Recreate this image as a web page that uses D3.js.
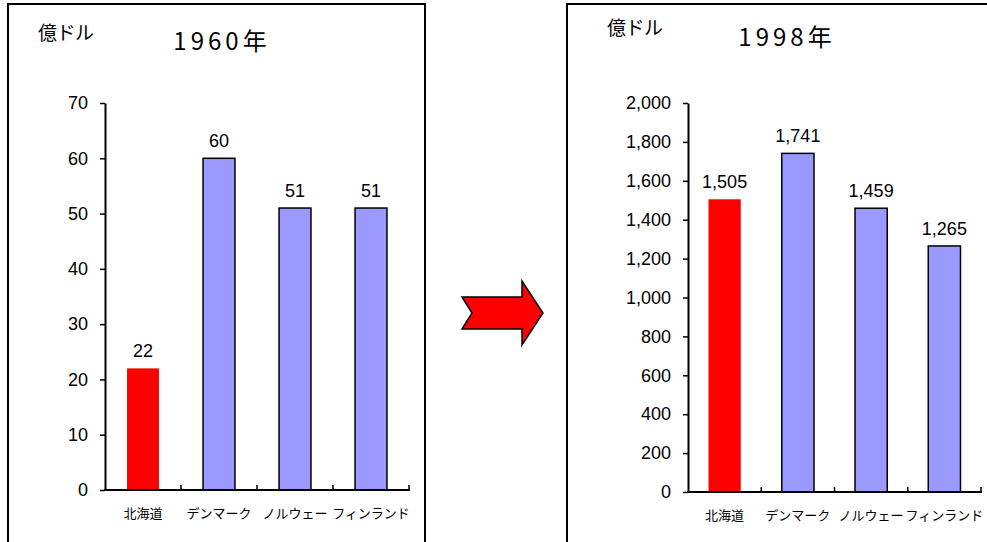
<!DOCTYPE html>
<html>
<head>
<meta charset="utf-8">
<script src="https://cdn.jsdelivr.net/npm/d3@7"></script>
<style>
  html, body { margin: 0; padding: 0; background: #fff; }
  svg { display: block; }
</style>
</head>
<body>
<svg id="chart" width="987" height="542"></svg>
<script>
// ---- data ----
const categories = ["北海道", "デンマーク", "ノルウェー", "フィンランド"];
const values1960 = [22, 60, 51, 51];
const values1998 = [1505, 1741, 1459, 1265];
const ticks1960 = [0, 10, 20, 30, 40, 50, 60, 70];
const ticks1998 = [0, 200, 400, 600, 800, 1000, 1200, 1400, 1600, 1800, 2000];
const titles = ["1960年", "1998年"];
const unitLabel = "億ドル";
const highlightColor = "#FF0000";
const barColor = "#9999FF";

const svg = d3.select("#chart");
const latin = "'Liberation Sans', Arial, sans-serif";
const cjk = "'Noto Sans CJK JP', sans-serif";

function panel(cfg) {
  const g = svg.append("g");
  // frame
  g.append("path")
    .attr("d", `M${cfg.frame[0]},${cfg.frame[3]} V${cfg.frame[1]} H${cfg.frame[2]} V${cfg.frame[3]}`)
    .attr("fill", "none").attr("stroke", "#000").attr("stroke-width", 2);

  g.append("text").text(unitLabel)
    .attr("x", cfg.unitX).attr("y", cfg.unitY)
    .attr("font-family", cjk).attr("font-size", 19).attr("letter-spacing", -0.5).attr("fill", "#000");
  g.append("text").text(cfg.title)
    .attr("x", cfg.titleX).attr("y", cfg.titleY)
    .attr("text-anchor", "middle")
    .attr("font-family", cjk).attr("font-size", 24).attr("letter-spacing", 4)
    .attr("fill", "#000");

  const y = d3.scaleLinear().domain([0, cfg.ticks[cfg.ticks.length - 1]]).range([cfg.y0, cfg.y1]);
  const x = d3.scaleBand().domain(categories).range([cfg.x0, cfg.x1])
    .paddingInner(cfg.pad).paddingOuter(cfg.pad / 2);

  // bars
  g.selectAll("rect.bar").data(cfg.values).enter().append("rect")
    .attr("x", (d, i) => x(categories[i]))
    .attr("y", d => y(d))
    .attr("width", x.bandwidth())
    .attr("height", d => y(0) - y(d))
    .attr("fill", (d, i) => i === 0 ? highlightColor : barColor)
    .attr("stroke", (d, i) => i === 0 ? "none" : "#000")
    .attr("stroke-width", 1.5);

  // value labels
  const fmt = d3.format(",");
  g.selectAll("text.val").data(cfg.values).enter().append("text")
    .attr("x", (d, i) => x(categories[i]) + x.bandwidth() / 2)
    .attr("y", d => y(d) - 11)
    .attr("text-anchor", "middle")
    .attr("font-family", latin).attr("font-size", 18).attr("fill", "#000")
    .text(d => fmt(d));

  // y axis
  const ya = g.append("g").attr("transform", `translate(${cfg.x0},0)`)
    .call(d3.axisLeft(y).tickValues(cfg.ticks).tickSize(5).tickSizeOuter(0).tickPadding(12).tickFormat(fmt));
  ya.select(".domain").attr("stroke-width", 2);
  ya.selectAll(".tick line").attr("stroke-width", 1.5);
  ya.selectAll("text").attr("font-family", latin).attr("font-size", 18).attr("fill", "#000");

  // x axis baseline with inward ticks at category boundaries
  const step = x.step();
  g.append("line").attr("x1", cfg.x0 - 1).attr("x2", cfg.x1 + 1)
    .attr("y1", y(0)).attr("y2", y(0)).attr("stroke", "#000").attr("stroke-width", 2);
  g.selectAll("line.xt").data(categories).enter().append("line")
    .attr("x1", (d, i) => cfg.x0 + (i + 1) * step)
    .attr("x2", (d, i) => cfg.x0 + (i + 1) * step)
    .attr("y1", y(0)).attr("y2", y(0) - 5)
    .attr("stroke", "#000").attr("stroke-width", 1.5);

  // category labels
  g.selectAll("text.cat").data(categories).enter().append("text")
    .attr("x", d => x(d) + x.bandwidth() / 2)
    .attr("y", cfg.y0 + 28)
    .attr("text-anchor", "middle")
    .attr("font-family", cjk).attr("font-size", 13).attr("fill", "#000")
    .text(d => d);
}

panel({
  frame: [8, 4, 425, 545], unitX: 38, unitY: 40, title: titles[0], titleX: 222, titleY: 50,
  ticks: ticks1960, values: values1960, x0: 105, x1: 409, y0: 490, y1: 103, pad: 0.58
});
panel({
  frame: [567, 4, 1000, 545], unitX: 607, unitY: 35, title: titles[1], titleX: 787, titleY: 46,
  ticks: ticks1998, values: values1998, x0: 688, x1: 981, y0: 492, y1: 103, pad: 0.56
});

// arrow
const arrowPts = [[462,297],[522,297],[522,281],[543,313],[522,345],[522,329],[462,329],[472,313]];
svg.append("path")
  .attr("d", d3.line()(arrowPts) + "Z")
  .attr("fill", "#FF0000").attr("stroke", "#000").attr("stroke-width", 1.5)
  .attr("stroke-linejoin", "miter");
</script>
</body>
</html>
